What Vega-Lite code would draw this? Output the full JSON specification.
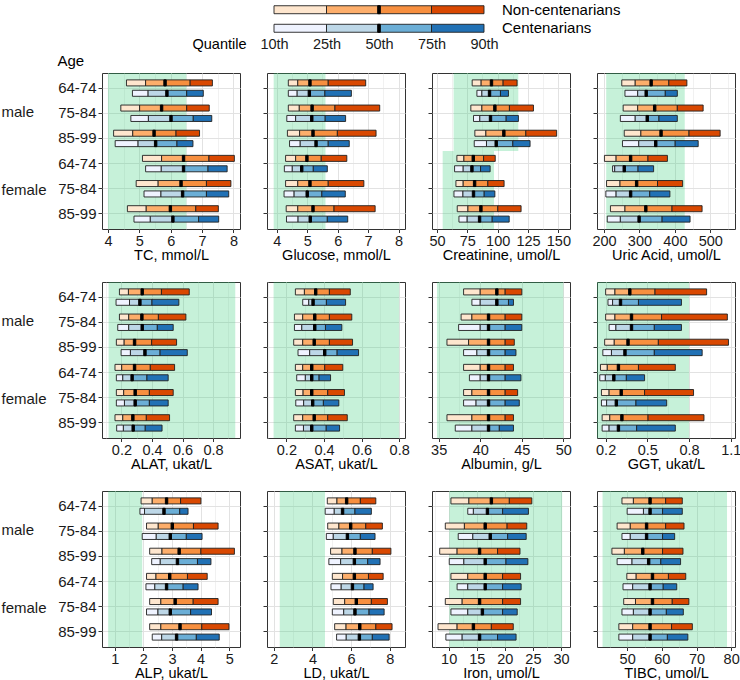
{
"$schema": "https://vega.github.io/schema/vega-lite/v6.json",
"padding": {"left": 0, "top": 2, "right": 0, "bottom": 0},
"background": "white",
"config": {
  "font": "Liberation Sans",
  "view": {"stroke": "#333333", "strokeWidth": 1},
  "axis": {"labelColor": "#1a1a1a", "titleColor": "#000000", "titleFontWeight": "normal", "domain": false, "tickColor": "#333333", "gridColor": "#e2e2e2"},
  "axisX": {"tickSize": 3.5, "labelPadding": 1.5, "labelFontSize": 14.5, "titleFontSize": 14.5, "titlePadding": 1, "labelOverlap": false, "labelFlush": false, "tickCount": 30}
},
"datasets": {
"leg": [
{"g":"NC","name":"Non-centenarians","sh":"NC1","lo":"10th","hi":"25th"},
{"g":"NC","name":"Non-centenarians","sh":"NC2","lo":"25th","hi":"50th"},
{"g":"NC","name":"Non-centenarians","sh":"NC3","lo":"50th","hi":"75th"},
{"g":"NC","name":"Non-centenarians","sh":"NC4","lo":"75th","hi":"90th"},
{"g":"C","name":"Centenarians","sh":"C1","lo":"10th","hi":"25th"},
{"g":"C","name":"Centenarians","sh":"C2","lo":"25th","hi":"50th"},
{"g":"C","name":"Centenarians","sh":"C3","lo":"50th","hi":"75th"},
{"g":"C","name":"Centenarians","sh":"C4","lo":"75th","hi":"90th"}
],
"ref": [
{"t":"TC","s":"male","lo":4.0,"hi":6.5},{"t":"TC","s":"female","lo":4.0,"hi":6.5},
{"t":"Glu","s":"male","lo":3.9,"hi":5.6},{"t":"Glu","s":"female","lo":3.9,"hi":5.6},
{"t":"Crea","s":"male","lo":63.7,"hi":117},{"t":"Crea","s":"female","lo":54.7,"hi":97},
{"t":"UA","s":"male","lo":206,"hi":428},{"t":"UA","s":"female","lo":206,"hi":428},
{"t":"ALAT","s":"male","lo":0.116,"hi":0.945},{"t":"ALAT","s":"female","lo":0.116,"hi":0.945},
{"t":"ASAT","s":"male","lo":0.132,"hi":0.8},{"t":"ASAT","s":"female","lo":0.132,"hi":0.8},
{"t":"Alb","s":"male","lo":34.8,"hi":50},{"t":"Alb","s":"female","lo":34.8,"hi":50},
{"t":"GGT","s":"male","lo":0.1,"hi":0.8},{"t":"GGT","s":"female","lo":0.1,"hi":0.8},
{"t":"ALP","s":"male","lo":0.77,"hi":1.96},{"t":"ALP","s":"female","lo":0.77,"hi":1.96},
{"t":"LD","s":"male","lo":2.31,"hi":4.65},{"t":"LD","s":"female","lo":2.31,"hi":4.65},
{"t":"Fe","s":"male","lo":10.1,"hi":30.2},{"t":"Fe","s":"female","lo":10.1,"hi":30.2},
{"t":"TIBC","s":"male","lo":42.9,"hi":78.8},{"t":"TIBC","s":"female","lo":42.9,"hi":78.8}
],
"q": [
{"t":"TC","k":"male 64-74","g":"NC","q10":4.59,"q25":5.2,"q50":5.82,"q75":6.62,"q90":7.33},
{"t":"TC","k":"male 64-74","g":"C","q10":4.78,"q25":5.28,"q50":5.88,"q75":6.51,"q90":7.04},
{"t":"TC","k":"male 75-84","g":"NC","q10":4.41,"q25":5.01,"q50":5.71,"q75":6.51,"q90":7.23},
{"t":"TC","k":"male 75-84","g":"C","q10":4.73,"q25":5.29,"q50":6.01,"q75":6.72,"q90":7.31},
{"t":"TC","k":"male 85-99","g":"NC","q10":4.18,"q25":4.79,"q50":5.47,"q75":6.17,"q90":6.92},
{"t":"TC","k":"male 85-99","g":"C","q10":4.23,"q25":4.96,"q50":5.52,"q75":6.2,"q90":6.71},
{"t":"TC","k":"female 64-74","g":"NC","q10":5.1,"q25":5.71,"q50":6.41,"q75":7.22,"q90":8.03},
{"t":"TC","k":"female 64-74","g":"C","q10":5.2,"q25":5.7,"q50":6.41,"q75":7.19,"q90":7.8},
{"t":"TC","k":"female 75-84","g":"NC","q10":4.9,"q25":5.6,"q50":6.33,"q75":7.14,"q90":7.92},
{"t":"TC","k":"female 75-84","g":"C","q10":5.15,"q25":5.69,"q50":6.38,"q75":7.14,"q90":7.85},
{"t":"TC","k":"female 85-99","g":"NC","q10":4.62,"q25":5.22,"q50":5.99,"q75":6.8,"q90":7.52},
{"t":"TC","k":"female 85-99","g":"C","q10":4.83,"q25":5.35,"q50":6.07,"q75":6.89,"q90":7.53},
{"t":"Glu","k":"male 64-74","g":"NC","q10":4.38,"q25":4.69,"q50":5.09,"q75":5.69,"q90":6.92},
{"t":"Glu","k":"male 64-74","g":"C","q10":4.38,"q25":4.67,"q50":5.07,"q75":5.58,"q90":6.45},
{"t":"Glu","k":"male 75-84","g":"NC","q10":4.38,"q25":4.74,"q50":5.16,"q75":5.91,"q90":7.38},
{"t":"Glu","k":"male 75-84","g":"C","q10":4.33,"q25":4.62,"q50":5.15,"q75":5.59,"q90":6.26},
{"t":"Glu","k":"male 85-99","g":"NC","q10":4.35,"q25":4.75,"q50":5.19,"q75":5.99,"q90":7.26},
{"t":"Glu","k":"male 85-99","g":"C","q10":4.42,"q25":4.77,"q50":5.29,"q75":5.69,"q90":6.38},
{"t":"Glu","k":"female 64-74","g":"NC","q10":4.29,"q25":4.62,"q50":4.99,"q75":5.46,"q90":6.3},
{"t":"Glu","k":"female 64-74","g":"C","q10":4.25,"q25":4.51,"q50":4.82,"q75":5.2,"q90":5.66},
{"t":"Glu","k":"female 75-84","g":"NC","q10":4.29,"q25":4.69,"q50":5.09,"q75":5.69,"q90":6.86},
{"t":"Glu","k":"female 75-84","g":"C","q10":4.24,"q25":4.57,"q50":5.0,"q75":5.48,"q90":6.25},
{"t":"Glu","k":"female 85-99","g":"NC","q10":4.31,"q25":4.69,"q50":5.19,"q75":5.88,"q90":7.23},
{"t":"Glu","k":"female 85-99","g":"C","q10":4.32,"q25":4.7,"q50":5.1,"q75":5.66,"q90":6.33},
{"t":"Crea","k":"male 64-74","g":"NC","q10":79.0,"q25":86.4,"q50":94.9,"q75":104.5,"q90":116.0},
{"t":"Crea","k":"male 64-74","g":"C","q10":82.9,"q25":87.0,"q50":93.3,"q75":102.3,"q90":108.9},
{"t":"Crea","k":"male 75-84","g":"NC","q10":77.9,"q25":87.0,"q50":97.7,"q75":109.7,"q90":129.5},
{"t":"Crea","k":"male 75-84","g":"C","q10":80.1,"q25":85.3,"q50":94.1,"q75":107.0,"q90":117.1},
{"t":"Crea","k":"male 85-99","g":"NC","q10":81.2,"q25":90.3,"q50":105.1,"q75":123.2,"q90":148.6},
{"t":"Crea","k":"male 85-99","g":"C","q10":80.7,"q25":90.8,"q50":98.8,"q75":112.5,"q90":126.7},
{"t":"Crea","k":"female 64-74","g":"NC","q10":66.4,"q25":72.2,"q50":79.9,"q75":88.4,"q90":98.0},
{"t":"Crea","k":"female 64-74","g":"C","q10":64.5,"q25":71.6,"q50":78.8,"q75":85.9,"q90":93.8},
{"t":"Crea","k":"female 75-84","g":"NC","q10":65.6,"q25":71.6,"q50":81.0,"q75":91.9,"q90":105.3},
{"t":"Crea","k":"female 75-84","g":"C","q10":64.0,"q25":71.4,"q50":80.1,"q75":88.9,"q90":97.7},
{"t":"Crea","k":"female 85-99","g":"NC","q10":66.7,"q25":75.5,"q50":86.2,"q75":100.1,"q90":119.3},
{"t":"Crea","k":"female 85-99","g":"C","q10":68.1,"q25":74.9,"q50":85.1,"q75":95.5,"q90":109.5},
{"t":"UA","k":"male 64-74","g":"NC","q10":250,"q25":288,"q50":333,"q75":383,"q90":434},
{"t":"UA","k":"male 64-74","g":"C","q10":259,"q25":295,"q50":319,"q75":373,"q90":407},
{"t":"UA","k":"male 75-84","g":"NC","q10":254,"q25":295,"q50":343,"q75":407,"q90":480},
{"t":"UA","k":"male 75-84","g":"C","q10":246,"q25":288,"q50":322,"q75":355,"q90":407},
{"t":"UA","k":"male 85-99","g":"NC","q10":257,"q25":304,"q50":361,"q75":440,"q90":528},
{"t":"UA","k":"male 85-99","g":"C","q10":252,"q25":298,"q50":346,"q75":401,"q90":466},
{"t":"UA","k":"female 64-74","g":"NC","q10":201,"q25":234,"q50":275,"q75":324,"q90":379},
{"t":"UA","k":"female 64-74","g":"C","q10":224,"q25":230,"q50":257,"q75":296,"q90":340},
{"t":"UA","k":"female 75-84","g":"NC","q10":207,"q25":245,"q50":292,"q75":351,"q90":422},
{"t":"UA","k":"female 75-84","g":"C","q10":205,"q25":234,"q50":275,"q75":329,"q90":386},
{"t":"UA","k":"female 85-99","g":"NC","q10":218,"q25":259,"q50":318,"q75":392,"q90":477},
{"t":"UA","k":"female 85-99","g":"C","q10":209,"q25":246,"q50":299,"q75":364,"q90":443},
{"t":"ALAT","k":"male 64-74","g":"NC","q10":0.187,"q25":0.246,"q50":0.336,"q75":0.462,"q90":0.644},
{"t":"ALAT","k":"male 64-74","g":"C","q10":0.165,"q25":0.253,"q50":0.321,"q75":0.4,"q90":0.576},
{"t":"ALAT","k":"male 75-84","g":"NC","q10":0.187,"q25":0.248,"q50":0.334,"q75":0.442,"q90":0.622},
{"t":"ALAT","k":"male 75-84","g":"C","q10":0.176,"q25":0.248,"q50":0.336,"q75":0.435,"q90":0.539},
{"t":"ALAT","k":"male 85-99","g":"NC","q10":0.167,"q25":0.218,"q50":0.286,"q75":0.398,"q90":0.561},
{"t":"ALAT","k":"male 85-99","g":"C","q10":0.198,"q25":0.259,"q50":0.354,"q75":0.453,"q90":0.631},
{"t":"ALAT","k":"female 64-74","g":"NC","q10":0.158,"q25":0.202,"q50":0.286,"q75":0.389,"q90":0.548},
{"t":"ALAT","k":"female 64-74","g":"C","q10":0.167,"q25":0.209,"q50":0.27,"q75":0.367,"q90":0.506},
{"t":"ALAT","k":"female 75-84","g":"NC","q10":0.167,"q25":0.215,"q50":0.29,"q75":0.383,"q90":0.539},
{"t":"ALAT","k":"female 75-84","g":"C","q10":0.167,"q25":0.22,"q50":0.29,"q75":0.383,"q90":0.506},
{"t":"ALAT","k":"female 85-99","g":"NC","q10":0.158,"q25":0.209,"q50":0.275,"q75":0.363,"q90":0.515},
{"t":"ALAT","k":"female 85-99","g":"C","q10":0.169,"q25":0.213,"q50":0.277,"q75":0.356,"q90":0.466},
{"t":"ASAT","k":"male 64-74","g":"NC","q10":0.248,"q25":0.296,"q50":0.356,"q75":0.429,"q90":0.54},
{"t":"ASAT","k":"male 64-74","g":"C","q10":0.287,"q25":0.319,"q50":0.342,"q75":0.413,"q90":0.515},
{"t":"ASAT","k":"male 75-84","g":"NC","q10":0.243,"q25":0.287,"q50":0.351,"q75":0.429,"q90":0.548},
{"t":"ASAT","k":"male 75-84","g":"C","q10":0.243,"q25":0.282,"q50":0.351,"q75":0.408,"q90":0.495},
{"t":"ASAT","k":"male 85-99","g":"NC","q10":0.239,"q25":0.287,"q50":0.348,"q75":0.429,"q90":0.552},
{"t":"ASAT","k":"male 85-99","g":"C","q10":0.262,"q25":0.324,"q50":0.404,"q75":0.47,"q90":0.584},
{"t":"ASAT","k":"female 64-74","g":"NC","q10":0.248,"q25":0.287,"q50":0.335,"q75":0.404,"q90":0.5},
{"t":"ASAT","k":"female 64-74","g":"C","q10":0.255,"q25":0.301,"q50":0.335,"q75":0.374,"q90":0.435},
{"t":"ASAT","k":"female 75-84","g":"NC","q10":0.248,"q25":0.289,"q50":0.335,"q75":0.42,"q90":0.509},
{"t":"ASAT","k":"female 75-84","g":"C","q10":0.25,"q25":0.292,"q50":0.34,"q75":0.397,"q90":0.479},
{"t":"ASAT","k":"female 85-99","g":"NC","q10":0.239,"q25":0.287,"q50":0.348,"q75":0.42,"q90":0.524},
{"t":"ASAT","k":"female 85-99","g":"C","q10":0.248,"q25":0.291,"q50":0.335,"q75":0.412,"q90":0.483},
{"t":"Alb","k":"male 64-74","g":"NC","q10":38,"q25":40,"q50":42,"q75":43,"q90":45},
{"t":"Alb","k":"male 64-74","g":"C","q10":39,"q25":40,"q50":42,"q75":43.4,"q90":44},
{"t":"Alb","k":"male 75-84","g":"NC","q10":37.7,"q25":39,"q50":41,"q75":43,"q90":45},
{"t":"Alb","k":"male 75-84","g":"C","q10":37.4,"q25":40,"q50":41,"q75":43,"q90":45},
{"t":"Alb","k":"male 85-99","g":"NC","q10":36,"q25":38.6,"q50":41,"q75":43,"q90":44.1},
{"t":"Alb","k":"male 85-99","g":"C","q10":38,"q25":39.6,"q50":41,"q75":43,"q90":44.3},
{"t":"Alb","k":"female 64-74","g":"NC","q10":38,"q25":40,"q50":41,"q75":43,"q90":44},
{"t":"Alb","k":"female 64-74","g":"C","q10":38.7,"q25":40,"q50":41,"q75":43,"q90":44.9},
{"t":"Alb","k":"female 75-84","g":"NC","q10":38,"q25":39,"q50":41,"q75":43,"q90":44.5},
{"t":"Alb","k":"female 75-84","g":"C","q10":38,"q25":39.5,"q50":41,"q75":43,"q90":44.7},
{"t":"Alb","k":"female 85-99","g":"NC","q10":36,"q25":39,"q50":41,"q75":43,"q90":44},
{"t":"Alb","k":"female 85-99","g":"C","q10":37,"q25":39,"q50":41,"q75":42.3,"q90":44},
{"t":"GGT","k":"male 64-74","g":"NC","q10":0.2,"q25":0.267,"q50":0.374,"q75":0.555,"q90":0.926},
{"t":"GGT","k":"male 64-74","g":"C","q10":0.217,"q25":0.25,"q50":0.307,"q75":0.436,"q90":0.745},
{"t":"GGT","k":"male 75-84","g":"NC","q10":0.2,"q25":0.267,"q50":0.386,"q75":0.602,"q90":1.075},
{"t":"GGT","k":"male 75-84","g":"C","q10":0.225,"q25":0.274,"q50":0.386,"q75":0.55,"q90":0.745},
{"t":"GGT","k":"male 85-99","g":"NC","q10":0.193,"q25":0.262,"q50":0.361,"q75":0.579,"q90":1.083},
{"t":"GGT","k":"male 85-99","g":"C","q10":0.18,"q25":0.242,"q50":0.339,"q75":0.55,"q90":0.894},
{"t":"GGT","k":"female 64-74","g":"NC","q10":0.163,"q25":0.212,"q50":0.292,"q75":0.436,"q90":0.701},
{"t":"GGT","k":"female 64-74","g":"C","q10":0.158,"q25":0.198,"q50":0.259,"q75":0.349,"q90":0.48},
{"t":"GGT","k":"female 75-84","g":"NC","q10":0.17,"q25":0.225,"q50":0.312,"q75":0.48,"q90":0.832},
{"t":"GGT","k":"female 75-84","g":"C","q10":0.17,"q25":0.207,"q50":0.277,"q75":0.418,"q90":0.639},
{"t":"GGT","k":"female 85-99","g":"NC","q10":0.175,"q25":0.23,"q50":0.317,"q75":0.505,"q90":0.907},
{"t":"GGT","k":"female 85-99","g":"C","q10":0.175,"q25":0.225,"q50":0.292,"q75":0.423,"q90":0.701},
{"t":"ALP","k":"male 64-74","g":"NC","q10":1.92,"q25":2.31,"q50":2.81,"q75":3.3,"q90":4.01},
{"t":"ALP","k":"male 64-74","g":"C","q10":1.88,"q25":2.04,"q50":2.72,"q75":3.27,"q90":3.56},
{"t":"ALP","k":"male 75-84","g":"NC","q10":2.11,"q25":2.52,"q50":3.01,"q75":3.75,"q90":4.61},
{"t":"ALP","k":"male 75-84","g":"C","q10":1.96,"q25":2.45,"q50":2.94,"q75":3.5,"q90":4.05},
{"t":"ALP","k":"male 85-99","g":"NC","q10":2.22,"q25":2.65,"q50":3.25,"q75":4.01,"q90":5.18},
{"t":"ALP","k":"male 85-99","g":"C","q10":2.29,"q25":2.59,"q50":3.19,"q75":3.89,"q90":4.36},
{"t":"ALP","k":"female 64-74","g":"NC","q10":2.11,"q25":2.44,"q50":2.92,"q75":3.54,"q90":4.23},
{"t":"ALP","k":"female 64-74","g":"C","q10":2.09,"q25":2.4,"q50":2.81,"q75":3.39,"q90":3.91},
{"t":"ALP","k":"female 75-84","g":"NC","q10":2.22,"q25":2.61,"q50":3.11,"q75":3.74,"q90":4.61},
{"t":"ALP","k":"female 75-84","g":"C","q10":2.11,"q25":2.51,"q50":2.94,"q75":3.65,"q90":4.38},
{"t":"ALP","k":"female 85-99","g":"NC","q10":2.22,"q25":2.61,"q50":3.28,"q75":4.04,"q90":4.99},
{"t":"ALP","k":"female 85-99","g":"C","q10":2.31,"q25":2.64,"q50":3.16,"q75":3.85,"q90":4.65},
{"t":"LD","k":"male 64-74","g":"NC","q10":4.77,"q25":5.27,"q50":5.77,"q75":6.48,"q90":7.28},
{"t":"LD","k":"male 64-74","g":"C","q10":4.66,"q25":5.13,"q50":5.56,"q75":6.2,"q90":7.05},
{"t":"LD","k":"male 75-84","g":"NC","q10":4.79,"q25":5.37,"q50":5.98,"q75":6.76,"q90":7.62},
{"t":"LD","k":"male 75-84","g":"C","q10":4.72,"q25":5.08,"q50":5.81,"q75":6.48,"q90":7.24},
{"t":"LD","k":"male 85-99","g":"NC","q10":4.94,"q25":5.53,"q50":6.2,"q75":7.1,"q90":8.06},
{"t":"LD","k":"male 85-99","g":"C","q10":4.85,"q25":5.46,"q50":6.17,"q75":6.86,"q90":7.5},
{"t":"LD","k":"female 64-74","g":"NC","q10":5.03,"q25":5.56,"q50":6.17,"q75":6.9,"q90":7.66},
{"t":"LD","k":"female 64-74","g":"C","q10":4.96,"q25":5.49,"q50":6.07,"q75":6.67,"q90":7.14},
{"t":"LD","k":"female 75-84","g":"NC","q10":5.08,"q25":5.67,"q50":6.27,"q75":7.05,"q90":7.88},
{"t":"LD","k":"female 75-84","g":"C","q10":5.03,"q25":5.62,"q50":6.2,"q75":6.93,"q90":7.71},
{"t":"LD","k":"female 85-99","g":"NC","q10":5.15,"q25":5.74,"q50":6.45,"q75":7.28,"q90":8.12},
{"t":"LD","k":"female 85-99","g":"C","q10":5.25,"q25":5.75,"q50":6.43,"q75":7.1,"q90":7.97},
{"t":"Fe","k":"male 64-74","g":"NC","q10":10.4,"q25":13.6,"q50":17.6,"q75":20.8,"q90":24.8},
{"t":"Fe","k":"male 64-74","g":"C","q10":13.4,"q25":14.4,"q50":16.9,"q75":19.6,"q90":24.2},
{"t":"Fe","k":"male 75-84","g":"NC","q10":9.4,"q25":12.8,"q50":16.5,"q75":20.4,"q90":23.9},
{"t":"Fe","k":"male 75-84","g":"C","q10":11.7,"q25":14.3,"q50":17.4,"q75":20.5,"q90":23.8},
{"t":"Fe","k":"male 85-99","g":"NC","q10":8.4,"q25":11.5,"q50":15.5,"q75":18.7,"q90":22.7},
{"t":"Fe","k":"male 85-99","g":"C","q10":10.1,"q25":12.7,"q50":16.5,"q75":20.2,"q90":24.1},
{"t":"Fe","k":"female 64-74","g":"NC","q10":10.4,"q25":13.4,"q50":16.5,"q75":19.6,"q90":22.8},
{"t":"Fe","k":"female 64-74","g":"C","q10":11.5,"q25":13.4,"q50":16.5,"q75":19.6,"q90":22.9},
{"t":"Fe","k":"female 75-84","g":"NC","q10":9.4,"q25":12.4,"q50":15.5,"q75":19.6,"q90":22.8},
{"t":"Fe","k":"female 75-84","g":"C","q10":10.4,"q25":13.4,"q50":16.0,"q75":19.6,"q90":22.2},
{"t":"Fe","k":"female 85-99","g":"NC","q10":8.1,"q25":11.5,"q50":14.4,"q75":17.6,"q90":21.5},
{"t":"Fe","k":"female 85-99","g":"C","q10":9.5,"q25":12.4,"q50":15.5,"q75":18.7,"q90":22.0},
{"t":"TIBC","k":"male 64-74","g":"NC","q10":48.5,"q25":51.8,"q50":56.6,"q75":61.1,"q90":65.9},
{"t":"TIBC","k":"male 64-74","g":"C","q10":50.0,"q25":54.7,"q50":56.6,"q75":60.2,"q90":65.9},
{"t":"TIBC","k":"male 75-84","g":"NC","q10":47.1,"q25":50.9,"q50":55.6,"q75":61.1,"q90":66.4},
{"t":"TIBC","k":"male 75-84","g":"C","q10":48.5,"q25":50.9,"q50":55.6,"q75":60.2,"q90":63.7},
{"t":"TIBC","k":"male 85-99","g":"NC","q10":45.6,"q25":49.2,"q50":54.5,"q75":60.2,"q90":66.1},
{"t":"TIBC","k":"male 85-99","g":"C","q10":47.1,"q25":51.4,"q50":56.2,"q75":59.7,"q90":65.4},
{"t":"TIBC","k":"female 64-74","g":"NC","q10":49.9,"q25":52.6,"q50":57.3,"q75":61.9,"q90":66.9},
{"t":"TIBC","k":"female 64-74","g":"C","q10":48.8,"q25":51.6,"q50":56.6,"q75":60.4,"q90":64.3},
{"t":"TIBC","k":"female 75-84","g":"NC","q10":49.0,"q25":52.4,"q50":57.3,"q75":63.0,"q90":67.8},
{"t":"TIBC","k":"female 75-84","g":"C","q10":48.5,"q25":51.8,"q50":56.6,"q75":61.3,"q90":66.2},
{"t":"TIBC","k":"female 85-99","g":"NC","q10":47.6,"q25":51.6,"q50":56.6,"q75":62.8,"q90":68.8},
{"t":"TIBC","k":"female 85-99","g":"C","q10":47.6,"q25":51.6,"q50":56.6,"q75":61.6,"q90":67.5}
]
},
"vconcat": [
{
 "width": 540, "height": 28,
 "view": {"stroke": null},
 "layer": [
  {"data": {"name": "leg"}, "mark": {"type": "bar", "stroke": "#1f1f1f", "strokeWidth": 0.9},
   "encoding": {
    "x": {"field": "lo", "type": "ordinal", "scale": {"type": "point", "padding": 0, "domain": ["10th","25th","50th","75th","90th"], "range": [172, 382]}, "axis": {"title": "Quantile", "ticks": false, "tickSize": 0, "grid": false, "labelPadding": 4, "labelAngle": 0, "labelFontSize": 14.5, "titleFontSize": 14.5, "titleAlign": "left", "titleBaseline": "top", "titleX": 90, "titleY": 4, "titleAnchor": null}},
    "x2": {"field": "hi"},
    "y": {"field": "g", "type": "nominal", "scale": {"domain": ["NC","C"], "paddingInner": 0.57, "paddingOuter": 0.04}, "axis": null},
    "fill": {"field": "sh", "type": "nominal", "scale": {"domain": ["NC1","NC2","NC3","NC4","C1","C2","C3","C4"], "range": ["#fee6ce","#fdae6b","#f78f3f","#d94801","#eff3ff","#bdd7e7","#6baed6","#2171b5"]}, "legend": null}
   }},
  {"data": {"name": "leg"}, "transform": [{"filter": "datum.lo=='50th'"}], "mark": {"type": "bar", "fill": "#000", "stroke": "#000", "strokeWidth": 1, "xOffset": -1.3, "x2Offset": 1.3},
   "encoding": {"x": {"field": "lo", "type": "ordinal"}, "x2": {"field": "lo"}, "y": {"field": "g", "type": "nominal"}}},
  {"data": {"name": "leg"}, "transform": [{"filter": "datum.hi=='90th'"}], "mark": {"type": "text", "align": "left", "baseline": "middle", "dx": 18, "fontSize": 15, "color": "#000"},
   "encoding": {"x": {"field": "hi", "type": "ordinal"}, "y": {"field": "g", "type": "nominal"}, "text": {"field": "name"}}}
 ]
},
{
 "columns": 4,
 "bounds": "flush",
 "spacing": {"row": 53, "column": 27},
 "concat": [
 {"width": 138, "height": 156, "resolve": {"scale": {"y": "independent"}},
  "layer": [
   {"data": {"name": "ref"}, "transform": [{"filter": "datum.t=='TC'"}], "mark": {"type": "rect", "fill": "#2ecc71", "opacity": 0.27, "clip": true},
    "encoding": {"x": {"field": "lo", "type": "quantitative", "scale": {"domain": [3.81, 8.21], "nice": false, "zero": false}, "axis": {"title": "TC, mmol/L", "grid": true, "tickCount": 30, "labelOverlap": false, "values": [4,4.5,5,5.5,6,6.5,7,7.5,8], "format": ".0f", "labelExpr": "datum.value % 1 == 0 ? datum.label : ''", "tickOpacity": {"condition": {"test": "datum.value % 1 == 0", "value": 1}, "value": 0}, "gridWidth": {"condition": {"test": "datum.value % 1 == 0", "value": 1}, "value": 0.5}}},
     "x2": {"field": "hi"}, "y": {"field": "s", "type": "nominal", "scale": {"domain": ["male","female"], "paddingInner": 0, "paddingOuter": 0}, "axis": null}}},
   {"data": {"name": "q"}, "transform": [{"filter": "datum.t=='TC'"}],
    "layer": [
     {"mark": {"type": "bar", "stroke": "#1f1f1f", "strokeWidth": 0.9}, "encoding": {"x": {"field": "q10", "type": "quantitative"}, "x2": {"field": "q25"}, "y": {"field": "k", "type": "nominal", "scale": {"domain": ["male 64-74","male 75-84","male 85-99","female 64-74","female 75-84","female 85-99"], "paddingInner": 0, "paddingOuter": 0.1}, "axis": {"orient": "left", "title": "Age", "labelExpr": "split(datum.label, ' ')[1]", "bandPosition": 0.5, "grid": true, "ticks": true, "tickSize": 4, "labelPadding": 2, "labelFontSize": 15, "titleFontSize": 15, "titleAngle": 0, "titleAlign": "left", "titleBaseline": "alphabetic", "titleX": -45, "titleY": -8}}, "yOffset": {"field": "g", "type": "nominal", "scale": {"domain": ["NC","C"], "paddingInner": 0.42, "paddingOuter": 0.42}}, "fill": {"condition": {"test": "datum.g=='C'", "value": "#eff3ff"}, "value": "#fee6ce"}}},
     {"mark": {"type": "bar", "stroke": "#1f1f1f", "strokeWidth": 0.9}, "encoding": {"x": {"field": "q25", "type": "quantitative"}, "x2": {"field": "q50"}, "y": {"field": "k", "type": "nominal"}, "yOffset": {"field": "g", "type": "nominal"}, "fill": {"condition": {"test": "datum.g=='C'", "value": "#bdd7e7"}, "value": "#fdae6b"}}},
     {"mark": {"type": "bar", "stroke": "#1f1f1f", "strokeWidth": 0.9}, "encoding": {"x": {"field": "q50", "type": "quantitative"}, "x2": {"field": "q75"}, "y": {"field": "k", "type": "nominal"}, "yOffset": {"field": "g", "type": "nominal"}, "fill": {"condition": {"test": "datum.g=='C'", "value": "#6baed6"}, "value": "#f78f3f"}}},
     {"mark": {"type": "bar", "stroke": "#1f1f1f", "strokeWidth": 0.9}, "encoding": {"x": {"field": "q75", "type": "quantitative"}, "x2": {"field": "q90"}, "y": {"field": "k", "type": "nominal"}, "yOffset": {"field": "g", "type": "nominal"}, "fill": {"condition": {"test": "datum.g=='C'", "value": "#2171b5"}, "value": "#d94801"}}},
     {"mark": {"type": "bar", "fill": "#000", "stroke": "#000", "strokeWidth": 1, "xOffset": -1.2, "x2Offset": 1.2}, "encoding": {"x": {"field": "q50", "type": "quantitative"}, "x2": {"field": "q50"}, "y": {"field": "k", "type": "nominal"}, "yOffset": {"field": "g", "type": "nominal"}}}
    ]},
   {"data": {"name": "ref"}, "transform": [{"filter": "datum.t=='TC'"}], "mark": {"type": "rect", "opacity": 0},
    "encoding": {"x": {"field": "lo", "type": "quantitative"}, "x2": {"field": "hi"}, "y": {"field": "s", "type": "nominal", "scale": {"domain": ["male","female"], "paddingInner": 0, "paddingOuter": 0}, "axis": {"orient": "left", "title": null, "offset": 46, "ticks": false, "tickSize": 0, "domain": false, "grid": false, "labelAlign": "left", "labelPadding": 55, "labelFontSize": 15}}}}
  ]},
 {"width": 138, "height": 156, "resolve": {"scale": {"y": "independent"}},
  "layer": [
   {"data": {"name": "ref"}, "transform": [{"filter": "datum.t=='Glu'"}], "mark": {"type": "rect", "fill": "#2ecc71", "opacity": 0.27, "clip": true},
    "encoding": {"x": {"field": "lo", "type": "quantitative", "scale": {"domain": [3.68, 8.21], "nice": false, "zero": false}, "axis": {"title": "Glucose, mmol/L", "grid": true, "tickCount": 30, "labelOverlap": false, "values": [4,4.5,5,5.5,6,6.5,7,7.5,8], "format": ".0f", "labelExpr": "datum.value % 1 == 0 ? datum.label : ''", "tickOpacity": {"condition": {"test": "datum.value % 1 == 0", "value": 1}, "value": 0}, "gridWidth": {"condition": {"test": "datum.value % 1 == 0", "value": 1}, "value": 0.5}}},
     "x2": {"field": "hi"}, "y": {"field": "s", "type": "nominal", "scale": {"domain": ["male","female"], "paddingInner": 0, "paddingOuter": 0}, "axis": null}}},
   {"data": {"name": "q"}, "transform": [{"filter": "datum.t=='Glu'"}],
    "layer": [
     {"mark": {"type": "bar", "stroke": "#1f1f1f", "strokeWidth": 0.9}, "encoding": {"x": {"field": "q10", "type": "quantitative"}, "x2": {"field": "q25"}, "y": {"field": "k", "type": "nominal", "scale": {"domain": ["male 64-74","male 75-84","male 85-99","female 64-74","female 75-84","female 85-99"], "paddingInner": 0, "paddingOuter": 0.1}, "axis": {"orient": "left", "title": null, "labels": false, "bandPosition": 0.5, "grid": true, "ticks": true, "tickSize": 4}}, "yOffset": {"field": "g", "type": "nominal", "scale": {"domain": ["NC","C"], "paddingInner": 0.42, "paddingOuter": 0.42}}, "fill": {"condition": {"test": "datum.g=='C'", "value": "#eff3ff"}, "value": "#fee6ce"}}},
     {"mark": {"type": "bar", "stroke": "#1f1f1f", "strokeWidth": 0.9}, "encoding": {"x": {"field": "q25", "type": "quantitative"}, "x2": {"field": "q50"}, "y": {"field": "k", "type": "nominal"}, "yOffset": {"field": "g", "type": "nominal"}, "fill": {"condition": {"test": "datum.g=='C'", "value": "#bdd7e7"}, "value": "#fdae6b"}}},
     {"mark": {"type": "bar", "stroke": "#1f1f1f", "strokeWidth": 0.9}, "encoding": {"x": {"field": "q50", "type": "quantitative"}, "x2": {"field": "q75"}, "y": {"field": "k", "type": "nominal"}, "yOffset": {"field": "g", "type": "nominal"}, "fill": {"condition": {"test": "datum.g=='C'", "value": "#6baed6"}, "value": "#f78f3f"}}},
     {"mark": {"type": "bar", "stroke": "#1f1f1f", "strokeWidth": 0.9}, "encoding": {"x": {"field": "q75", "type": "quantitative"}, "x2": {"field": "q90"}, "y": {"field": "k", "type": "nominal"}, "yOffset": {"field": "g", "type": "nominal"}, "fill": {"condition": {"test": "datum.g=='C'", "value": "#2171b5"}, "value": "#d94801"}}},
     {"mark": {"type": "bar", "fill": "#000", "stroke": "#000", "strokeWidth": 1, "xOffset": -1.2, "x2Offset": 1.2}, "encoding": {"x": {"field": "q50", "type": "quantitative"}, "x2": {"field": "q50"}, "y": {"field": "k", "type": "nominal"}, "yOffset": {"field": "g", "type": "nominal"}}}
    ]}
  ]},
 {"width": 138, "height": 156, "resolve": {"scale": {"y": "independent"}},
  "layer": [
   {"data": {"name": "ref"}, "transform": [{"filter": "datum.t=='Crea'"}], "mark": {"type": "rect", "fill": "#2ecc71", "opacity": 0.27, "clip": true},
    "encoding": {"x": {"field": "lo", "type": "quantitative", "scale": {"domain": [45.9, 159.6], "nice": false, "zero": false}, "axis": {"title": "Creatinine, umol/L", "grid": true, "tickCount": 30, "labelOverlap": false, "values": [50,62.5,75,87.5,100,112.5,125,137.5,150], "format": ".0f", "labelExpr": "datum.value % 25 == 0 ? datum.label : ''", "tickOpacity": {"condition": {"test": "datum.value % 25 == 0", "value": 1}, "value": 0}, "gridWidth": {"condition": {"test": "datum.value % 25 == 0", "value": 1}, "value": 0.5}}},
     "x2": {"field": "hi"}, "y": {"field": "s", "type": "nominal", "scale": {"domain": ["male","female"], "paddingInner": 0, "paddingOuter": 0}, "axis": null}}},
   {"data": {"name": "q"}, "transform": [{"filter": "datum.t=='Crea'"}],
    "layer": [
     {"mark": {"type": "bar", "stroke": "#1f1f1f", "strokeWidth": 0.9}, "encoding": {"x": {"field": "q10", "type": "quantitative"}, "x2": {"field": "q25"}, "y": {"field": "k", "type": "nominal", "scale": {"domain": ["male 64-74","male 75-84","male 85-99","female 64-74","female 75-84","female 85-99"], "paddingInner": 0, "paddingOuter": 0.1}, "axis": {"orient": "left", "title": null, "labels": false, "bandPosition": 0.5, "grid": true, "ticks": true, "tickSize": 4}}, "yOffset": {"field": "g", "type": "nominal", "scale": {"domain": ["NC","C"], "paddingInner": 0.42, "paddingOuter": 0.42}}, "fill": {"condition": {"test": "datum.g=='C'", "value": "#eff3ff"}, "value": "#fee6ce"}}},
     {"mark": {"type": "bar", "stroke": "#1f1f1f", "strokeWidth": 0.9}, "encoding": {"x": {"field": "q25", "type": "quantitative"}, "x2": {"field": "q50"}, "y": {"field": "k", "type": "nominal"}, "yOffset": {"field": "g", "type": "nominal"}, "fill": {"condition": {"test": "datum.g=='C'", "value": "#bdd7e7"}, "value": "#fdae6b"}}},
     {"mark": {"type": "bar", "stroke": "#1f1f1f", "strokeWidth": 0.9}, "encoding": {"x": {"field": "q50", "type": "quantitative"}, "x2": {"field": "q75"}, "y": {"field": "k", "type": "nominal"}, "yOffset": {"field": "g", "type": "nominal"}, "fill": {"condition": {"test": "datum.g=='C'", "value": "#6baed6"}, "value": "#f78f3f"}}},
     {"mark": {"type": "bar", "stroke": "#1f1f1f", "strokeWidth": 0.9}, "encoding": {"x": {"field": "q75", "type": "quantitative"}, "x2": {"field": "q90"}, "y": {"field": "k", "type": "nominal"}, "yOffset": {"field": "g", "type": "nominal"}, "fill": {"condition": {"test": "datum.g=='C'", "value": "#2171b5"}, "value": "#d94801"}}},
     {"mark": {"type": "bar", "fill": "#000", "stroke": "#000", "strokeWidth": 1, "xOffset": -1.2, "x2Offset": 1.2}, "encoding": {"x": {"field": "q50", "type": "quantitative"}, "x2": {"field": "q50"}, "y": {"field": "k", "type": "nominal"}, "yOffset": {"field": "g", "type": "nominal"}}}
    ]}
  ]},
 {"width": 138, "height": 156, "resolve": {"scale": {"y": "independent"}},
  "layer": [
   {"data": {"name": "ref"}, "transform": [{"filter": "datum.t=='UA'"}], "mark": {"type": "rect", "fill": "#2ecc71", "opacity": 0.27, "clip": true},
    "encoding": {"x": {"field": "lo", "type": "quantitative", "scale": {"domain": [180, 570], "nice": false, "zero": false}, "axis": {"title": "Uric Acid, umol/L", "grid": true, "tickCount": 30, "labelOverlap": false, "values": [200,250,300,350,400,450,500,550], "format": ".0f", "labelExpr": "datum.value % 100 == 0 ? datum.label : ''", "tickOpacity": {"condition": {"test": "datum.value % 100 == 0", "value": 1}, "value": 0}, "gridWidth": {"condition": {"test": "datum.value % 100 == 0", "value": 1}, "value": 0.5}}},
     "x2": {"field": "hi"}, "y": {"field": "s", "type": "nominal", "scale": {"domain": ["male","female"], "paddingInner": 0, "paddingOuter": 0}, "axis": null}}},
   {"data": {"name": "q"}, "transform": [{"filter": "datum.t=='UA'"}],
    "layer": [
     {"mark": {"type": "bar", "stroke": "#1f1f1f", "strokeWidth": 0.9}, "encoding": {"x": {"field": "q10", "type": "quantitative"}, "x2": {"field": "q25"}, "y": {"field": "k", "type": "nominal", "scale": {"domain": ["male 64-74","male 75-84","male 85-99","female 64-74","female 75-84","female 85-99"], "paddingInner": 0, "paddingOuter": 0.1}, "axis": {"orient": "left", "title": null, "labels": false, "bandPosition": 0.5, "grid": true, "ticks": true, "tickSize": 4}}, "yOffset": {"field": "g", "type": "nominal", "scale": {"domain": ["NC","C"], "paddingInner": 0.42, "paddingOuter": 0.42}}, "fill": {"condition": {"test": "datum.g=='C'", "value": "#eff3ff"}, "value": "#fee6ce"}}},
     {"mark": {"type": "bar", "stroke": "#1f1f1f", "strokeWidth": 0.9}, "encoding": {"x": {"field": "q25", "type": "quantitative"}, "x2": {"field": "q50"}, "y": {"field": "k", "type": "nominal"}, "yOffset": {"field": "g", "type": "nominal"}, "fill": {"condition": {"test": "datum.g=='C'", "value": "#bdd7e7"}, "value": "#fdae6b"}}},
     {"mark": {"type": "bar", "stroke": "#1f1f1f", "strokeWidth": 0.9}, "encoding": {"x": {"field": "q50", "type": "quantitative"}, "x2": {"field": "q75"}, "y": {"field": "k", "type": "nominal"}, "yOffset": {"field": "g", "type": "nominal"}, "fill": {"condition": {"test": "datum.g=='C'", "value": "#6baed6"}, "value": "#f78f3f"}}},
     {"mark": {"type": "bar", "stroke": "#1f1f1f", "strokeWidth": 0.9}, "encoding": {"x": {"field": "q75", "type": "quantitative"}, "x2": {"field": "q90"}, "y": {"field": "k", "type": "nominal"}, "yOffset": {"field": "g", "type": "nominal"}, "fill": {"condition": {"test": "datum.g=='C'", "value": "#2171b5"}, "value": "#d94801"}}},
     {"mark": {"type": "bar", "fill": "#000", "stroke": "#000", "strokeWidth": 1, "xOffset": -1.2, "x2Offset": 1.2}, "encoding": {"x": {"field": "q50", "type": "quantitative"}, "x2": {"field": "q50"}, "y": {"field": "k", "type": "nominal"}, "yOffset": {"field": "g", "type": "nominal"}}}
    ]}
  ]},
 {"width": 138, "height": 156, "resolve": {"scale": {"y": "independent"}},
  "layer": [
   {"data": {"name": "ref"}, "transform": [{"filter": "datum.t=='ALAT'"}], "mark": {"type": "rect", "fill": "#2ecc71", "opacity": 0.27, "clip": true},
    "encoding": {"x": {"field": "lo", "type": "quantitative", "scale": {"domain": [0.073, 0.976], "nice": false, "zero": false}, "axis": {"title": "ALAT, ukat/L", "grid": true, "tickCount": 30, "labelOverlap": false, "values": [0.1,0.2,0.3,0.4,0.5,0.6,0.7,0.8,0.9], "format": ".1f", "labelExpr": "round(datum.value * 10) % 2 == 0 ? datum.label : ''", "tickOpacity": {"condition": {"test": "round(datum.value * 10) % 2 == 0", "value": 1}, "value": 0}, "gridWidth": {"condition": {"test": "round(datum.value * 10) % 2 == 0", "value": 1}, "value": 0.5}}},
     "x2": {"field": "hi"}, "y": {"field": "s", "type": "nominal", "scale": {"domain": ["male","female"], "paddingInner": 0, "paddingOuter": 0}, "axis": null}}},
   {"data": {"name": "q"}, "transform": [{"filter": "datum.t=='ALAT'"}],
    "layer": [
     {"mark": {"type": "bar", "stroke": "#1f1f1f", "strokeWidth": 0.9}, "encoding": {"x": {"field": "q10", "type": "quantitative"}, "x2": {"field": "q25"}, "y": {"field": "k", "type": "nominal", "scale": {"domain": ["male 64-74","male 75-84","male 85-99","female 64-74","female 75-84","female 85-99"], "paddingInner": 0, "paddingOuter": 0.1}, "axis": {"orient": "left", "title": null, "labelExpr": "split(datum.label, ' ')[1]", "bandPosition": 0.5, "grid": true, "ticks": true, "tickSize": 4, "labelPadding": 2, "labelFontSize": 15}}, "yOffset": {"field": "g", "type": "nominal", "scale": {"domain": ["NC","C"], "paddingInner": 0.42, "paddingOuter": 0.42}}, "fill": {"condition": {"test": "datum.g=='C'", "value": "#eff3ff"}, "value": "#fee6ce"}}},
     {"mark": {"type": "bar", "stroke": "#1f1f1f", "strokeWidth": 0.9}, "encoding": {"x": {"field": "q25", "type": "quantitative"}, "x2": {"field": "q50"}, "y": {"field": "k", "type": "nominal"}, "yOffset": {"field": "g", "type": "nominal"}, "fill": {"condition": {"test": "datum.g=='C'", "value": "#bdd7e7"}, "value": "#fdae6b"}}},
     {"mark": {"type": "bar", "stroke": "#1f1f1f", "strokeWidth": 0.9}, "encoding": {"x": {"field": "q50", "type": "quantitative"}, "x2": {"field": "q75"}, "y": {"field": "k", "type": "nominal"}, "yOffset": {"field": "g", "type": "nominal"}, "fill": {"condition": {"test": "datum.g=='C'", "value": "#6baed6"}, "value": "#f78f3f"}}},
     {"mark": {"type": "bar", "stroke": "#1f1f1f", "strokeWidth": 0.9}, "encoding": {"x": {"field": "q75", "type": "quantitative"}, "x2": {"field": "q90"}, "y": {"field": "k", "type": "nominal"}, "yOffset": {"field": "g", "type": "nominal"}, "fill": {"condition": {"test": "datum.g=='C'", "value": "#2171b5"}, "value": "#d94801"}}},
     {"mark": {"type": "bar", "fill": "#000", "stroke": "#000", "strokeWidth": 1, "xOffset": -1.2, "x2Offset": 1.2}, "encoding": {"x": {"field": "q50", "type": "quantitative"}, "x2": {"field": "q50"}, "y": {"field": "k", "type": "nominal"}, "yOffset": {"field": "g", "type": "nominal"}}}
    ]},
   {"data": {"name": "ref"}, "transform": [{"filter": "datum.t=='ALAT'"}], "mark": {"type": "rect", "opacity": 0},
    "encoding": {"x": {"field": "lo", "type": "quantitative"}, "x2": {"field": "hi"}, "y": {"field": "s", "type": "nominal", "scale": {"domain": ["male","female"], "paddingInner": 0, "paddingOuter": 0}, "axis": {"orient": "left", "title": null, "offset": 46, "ticks": false, "tickSize": 0, "domain": false, "grid": false, "labelAlign": "left", "labelPadding": 55, "labelFontSize": 15}}}}
  ]},
 {"width": 138, "height": 156, "resolve": {"scale": {"y": "independent"}},
  "layer": [
   {"data": {"name": "ref"}, "transform": [{"filter": "datum.t=='ASAT'"}], "mark": {"type": "rect", "fill": "#2ecc71", "opacity": 0.27, "clip": true},
    "encoding": {"x": {"field": "lo", "type": "quantitative", "scale": {"domain": [0.097, 0.831], "nice": false, "zero": false}, "axis": {"title": "ASAT, ukat/L", "grid": true, "tickCount": 30, "labelOverlap": false, "values": [0.1,0.2,0.3,0.4,0.5,0.6,0.7,0.8], "format": ".1f", "labelExpr": "round(datum.value * 10) % 2 == 0 ? datum.label : ''", "tickOpacity": {"condition": {"test": "round(datum.value * 10) % 2 == 0", "value": 1}, "value": 0}, "gridWidth": {"condition": {"test": "round(datum.value * 10) % 2 == 0", "value": 1}, "value": 0.5}}},
     "x2": {"field": "hi"}, "y": {"field": "s", "type": "nominal", "scale": {"domain": ["male","female"], "paddingInner": 0, "paddingOuter": 0}, "axis": null}}},
   {"data": {"name": "q"}, "transform": [{"filter": "datum.t=='ASAT'"}],
    "layer": [
     {"mark": {"type": "bar", "stroke": "#1f1f1f", "strokeWidth": 0.9}, "encoding": {"x": {"field": "q10", "type": "quantitative"}, "x2": {"field": "q25"}, "y": {"field": "k", "type": "nominal", "scale": {"domain": ["male 64-74","male 75-84","male 85-99","female 64-74","female 75-84","female 85-99"], "paddingInner": 0, "paddingOuter": 0.1}, "axis": {"orient": "left", "title": null, "labels": false, "bandPosition": 0.5, "grid": true, "ticks": true, "tickSize": 4}}, "yOffset": {"field": "g", "type": "nominal", "scale": {"domain": ["NC","C"], "paddingInner": 0.42, "paddingOuter": 0.42}}, "fill": {"condition": {"test": "datum.g=='C'", "value": "#eff3ff"}, "value": "#fee6ce"}}},
     {"mark": {"type": "bar", "stroke": "#1f1f1f", "strokeWidth": 0.9}, "encoding": {"x": {"field": "q25", "type": "quantitative"}, "x2": {"field": "q50"}, "y": {"field": "k", "type": "nominal"}, "yOffset": {"field": "g", "type": "nominal"}, "fill": {"condition": {"test": "datum.g=='C'", "value": "#bdd7e7"}, "value": "#fdae6b"}}},
     {"mark": {"type": "bar", "stroke": "#1f1f1f", "strokeWidth": 0.9}, "encoding": {"x": {"field": "q50", "type": "quantitative"}, "x2": {"field": "q75"}, "y": {"field": "k", "type": "nominal"}, "yOffset": {"field": "g", "type": "nominal"}, "fill": {"condition": {"test": "datum.g=='C'", "value": "#6baed6"}, "value": "#f78f3f"}}},
     {"mark": {"type": "bar", "stroke": "#1f1f1f", "strokeWidth": 0.9}, "encoding": {"x": {"field": "q75", "type": "quantitative"}, "x2": {"field": "q90"}, "y": {"field": "k", "type": "nominal"}, "yOffset": {"field": "g", "type": "nominal"}, "fill": {"condition": {"test": "datum.g=='C'", "value": "#2171b5"}, "value": "#d94801"}}},
     {"mark": {"type": "bar", "fill": "#000", "stroke": "#000", "strokeWidth": 1, "xOffset": -1.2, "x2Offset": 1.2}, "encoding": {"x": {"field": "q50", "type": "quantitative"}, "x2": {"field": "q50"}, "y": {"field": "k", "type": "nominal"}, "yOffset": {"field": "g", "type": "nominal"}}}
    ]}
  ]},
 {"width": 138, "height": 156, "resolve": {"scale": {"y": "independent"}},
  "layer": [
   {"data": {"name": "ref"}, "transform": [{"filter": "datum.t=='Alb'"}], "mark": {"type": "rect", "fill": "#2ecc71", "opacity": 0.27, "clip": true},
    "encoding": {"x": {"field": "lo", "type": "quantitative", "scale": {"domain": [34.2, 50.8], "nice": false, "zero": false}, "axis": {"title": "Albumin, g/L", "grid": true, "tickCount": 30, "labelOverlap": false, "values": [35,37.5,40,42.5,45,47.5,50], "format": ".0f", "labelExpr": "datum.value % 5 == 0 ? datum.label : ''", "tickOpacity": {"condition": {"test": "datum.value % 5 == 0", "value": 1}, "value": 0}, "gridWidth": {"condition": {"test": "datum.value % 5 == 0", "value": 1}, "value": 0.5}}},
     "x2": {"field": "hi"}, "y": {"field": "s", "type": "nominal", "scale": {"domain": ["male","female"], "paddingInner": 0, "paddingOuter": 0}, "axis": null}}},
   {"data": {"name": "q"}, "transform": [{"filter": "datum.t=='Alb'"}],
    "layer": [
     {"mark": {"type": "bar", "stroke": "#1f1f1f", "strokeWidth": 0.9}, "encoding": {"x": {"field": "q10", "type": "quantitative"}, "x2": {"field": "q25"}, "y": {"field": "k", "type": "nominal", "scale": {"domain": ["male 64-74","male 75-84","male 85-99","female 64-74","female 75-84","female 85-99"], "paddingInner": 0, "paddingOuter": 0.1}, "axis": {"orient": "left", "title": null, "labels": false, "bandPosition": 0.5, "grid": true, "ticks": true, "tickSize": 4}}, "yOffset": {"field": "g", "type": "nominal", "scale": {"domain": ["NC","C"], "paddingInner": 0.42, "paddingOuter": 0.42}}, "fill": {"condition": {"test": "datum.g=='C'", "value": "#eff3ff"}, "value": "#fee6ce"}}},
     {"mark": {"type": "bar", "stroke": "#1f1f1f", "strokeWidth": 0.9}, "encoding": {"x": {"field": "q25", "type": "quantitative"}, "x2": {"field": "q50"}, "y": {"field": "k", "type": "nominal"}, "yOffset": {"field": "g", "type": "nominal"}, "fill": {"condition": {"test": "datum.g=='C'", "value": "#bdd7e7"}, "value": "#fdae6b"}}},
     {"mark": {"type": "bar", "stroke": "#1f1f1f", "strokeWidth": 0.9}, "encoding": {"x": {"field": "q50", "type": "quantitative"}, "x2": {"field": "q75"}, "y": {"field": "k", "type": "nominal"}, "yOffset": {"field": "g", "type": "nominal"}, "fill": {"condition": {"test": "datum.g=='C'", "value": "#6baed6"}, "value": "#f78f3f"}}},
     {"mark": {"type": "bar", "stroke": "#1f1f1f", "strokeWidth": 0.9}, "encoding": {"x": {"field": "q75", "type": "quantitative"}, "x2": {"field": "q90"}, "y": {"field": "k", "type": "nominal"}, "yOffset": {"field": "g", "type": "nominal"}, "fill": {"condition": {"test": "datum.g=='C'", "value": "#2171b5"}, "value": "#d94801"}}},
     {"mark": {"type": "bar", "fill": "#000", "stroke": "#000", "strokeWidth": 1, "xOffset": -1.2, "x2Offset": 1.2}, "encoding": {"x": {"field": "q50", "type": "quantitative"}, "x2": {"field": "q50"}, "y": {"field": "k", "type": "nominal"}, "yOffset": {"field": "g", "type": "nominal"}}}
    ]}
  ]},
 {"width": 138, "height": 156, "resolve": {"scale": {"y": "independent"}},
  "layer": [
   {"data": {"name": "ref"}, "transform": [{"filter": "datum.t=='GGT'"}], "mark": {"type": "rect", "fill": "#2ecc71", "opacity": 0.27, "clip": true},
    "encoding": {"x": {"field": "lo", "type": "quantitative", "scale": {"domain": [0.138, 1.13], "nice": false, "zero": false}, "axis": {"title": "GGT, ukat/L", "grid": true, "tickCount": 30, "labelOverlap": false, "values": [0.2,0.35,0.5,0.65,0.8,0.95,1.1], "format": ".1f", "labelExpr": "round(datum.value * 100) % 10 == 0 ? datum.label : ''", "tickOpacity": {"condition": {"test": "round(datum.value * 100) % 10 == 0", "value": 1}, "value": 0}, "gridWidth": {"condition": {"test": "round(datum.value * 100) % 10 == 0", "value": 1}, "value": 0.5}}},
     "x2": {"field": "hi"}, "y": {"field": "s", "type": "nominal", "scale": {"domain": ["male","female"], "paddingInner": 0, "paddingOuter": 0}, "axis": null}}},
   {"data": {"name": "q"}, "transform": [{"filter": "datum.t=='GGT'"}],
    "layer": [
     {"mark": {"type": "bar", "stroke": "#1f1f1f", "strokeWidth": 0.9}, "encoding": {"x": {"field": "q10", "type": "quantitative"}, "x2": {"field": "q25"}, "y": {"field": "k", "type": "nominal", "scale": {"domain": ["male 64-74","male 75-84","male 85-99","female 64-74","female 75-84","female 85-99"], "paddingInner": 0, "paddingOuter": 0.1}, "axis": {"orient": "left", "title": null, "labels": false, "bandPosition": 0.5, "grid": true, "ticks": true, "tickSize": 4}}, "yOffset": {"field": "g", "type": "nominal", "scale": {"domain": ["NC","C"], "paddingInner": 0.42, "paddingOuter": 0.42}}, "fill": {"condition": {"test": "datum.g=='C'", "value": "#eff3ff"}, "value": "#fee6ce"}}},
     {"mark": {"type": "bar", "stroke": "#1f1f1f", "strokeWidth": 0.9}, "encoding": {"x": {"field": "q25", "type": "quantitative"}, "x2": {"field": "q50"}, "y": {"field": "k", "type": "nominal"}, "yOffset": {"field": "g", "type": "nominal"}, "fill": {"condition": {"test": "datum.g=='C'", "value": "#bdd7e7"}, "value": "#fdae6b"}}},
     {"mark": {"type": "bar", "stroke": "#1f1f1f", "strokeWidth": 0.9}, "encoding": {"x": {"field": "q50", "type": "quantitative"}, "x2": {"field": "q75"}, "y": {"field": "k", "type": "nominal"}, "yOffset": {"field": "g", "type": "nominal"}, "fill": {"condition": {"test": "datum.g=='C'", "value": "#6baed6"}, "value": "#f78f3f"}}},
     {"mark": {"type": "bar", "stroke": "#1f1f1f", "strokeWidth": 0.9}, "encoding": {"x": {"field": "q75", "type": "quantitative"}, "x2": {"field": "q90"}, "y": {"field": "k", "type": "nominal"}, "yOffset": {"field": "g", "type": "nominal"}, "fill": {"condition": {"test": "datum.g=='C'", "value": "#2171b5"}, "value": "#d94801"}}},
     {"mark": {"type": "bar", "fill": "#000", "stroke": "#000", "strokeWidth": 1, "xOffset": -1.2, "x2Offset": 1.2}, "encoding": {"x": {"field": "q50", "type": "quantitative"}, "x2": {"field": "q50"}, "y": {"field": "k", "type": "nominal"}, "yOffset": {"field": "g", "type": "nominal"}}}
    ]}
  ]},
 {"width": 138, "height": 156, "resolve": {"scale": {"y": "independent"}},
  "layer": [
   {"data": {"name": "ref"}, "transform": [{"filter": "datum.t=='ALP'"}], "mark": {"type": "rect", "fill": "#2ecc71", "opacity": 0.27, "clip": true},
    "encoding": {"x": {"field": "lo", "type": "quantitative", "scale": {"domain": [0.555, 5.375], "nice": false, "zero": false}, "axis": {"title": "ALP, ukat/L", "grid": true, "tickCount": 30, "labelOverlap": false, "values": [1,1.5,2,2.5,3,3.5,4,4.5,5], "format": ".0f", "labelExpr": "datum.value % 1 == 0 ? datum.label : ''", "tickOpacity": {"condition": {"test": "datum.value % 1 == 0", "value": 1}, "value": 0}, "gridWidth": {"condition": {"test": "datum.value % 1 == 0", "value": 1}, "value": 0.5}}},
     "x2": {"field": "hi"}, "y": {"field": "s", "type": "nominal", "scale": {"domain": ["male","female"], "paddingInner": 0, "paddingOuter": 0}, "axis": null}}},
   {"data": {"name": "q"}, "transform": [{"filter": "datum.t=='ALP'"}],
    "layer": [
     {"mark": {"type": "bar", "stroke": "#1f1f1f", "strokeWidth": 0.9}, "encoding": {"x": {"field": "q10", "type": "quantitative"}, "x2": {"field": "q25"}, "y": {"field": "k", "type": "nominal", "scale": {"domain": ["male 64-74","male 75-84","male 85-99","female 64-74","female 75-84","female 85-99"], "paddingInner": 0, "paddingOuter": 0.1}, "axis": {"orient": "left", "title": null, "labelExpr": "split(datum.label, ' ')[1]", "bandPosition": 0.5, "grid": true, "ticks": true, "tickSize": 4, "labelPadding": 2, "labelFontSize": 15}}, "yOffset": {"field": "g", "type": "nominal", "scale": {"domain": ["NC","C"], "paddingInner": 0.42, "paddingOuter": 0.42}}, "fill": {"condition": {"test": "datum.g=='C'", "value": "#eff3ff"}, "value": "#fee6ce"}}},
     {"mark": {"type": "bar", "stroke": "#1f1f1f", "strokeWidth": 0.9}, "encoding": {"x": {"field": "q25", "type": "quantitative"}, "x2": {"field": "q50"}, "y": {"field": "k", "type": "nominal"}, "yOffset": {"field": "g", "type": "nominal"}, "fill": {"condition": {"test": "datum.g=='C'", "value": "#bdd7e7"}, "value": "#fdae6b"}}},
     {"mark": {"type": "bar", "stroke": "#1f1f1f", "strokeWidth": 0.9}, "encoding": {"x": {"field": "q50", "type": "quantitative"}, "x2": {"field": "q75"}, "y": {"field": "k", "type": "nominal"}, "yOffset": {"field": "g", "type": "nominal"}, "fill": {"condition": {"test": "datum.g=='C'", "value": "#6baed6"}, "value": "#f78f3f"}}},
     {"mark": {"type": "bar", "stroke": "#1f1f1f", "strokeWidth": 0.9}, "encoding": {"x": {"field": "q75", "type": "quantitative"}, "x2": {"field": "q90"}, "y": {"field": "k", "type": "nominal"}, "yOffset": {"field": "g", "type": "nominal"}, "fill": {"condition": {"test": "datum.g=='C'", "value": "#2171b5"}, "value": "#d94801"}}},
     {"mark": {"type": "bar", "fill": "#000", "stroke": "#000", "strokeWidth": 1, "xOffset": -1.2, "x2Offset": 1.2}, "encoding": {"x": {"field": "q50", "type": "quantitative"}, "x2": {"field": "q50"}, "y": {"field": "k", "type": "nominal"}, "yOffset": {"field": "g", "type": "nominal"}}}
    ]},
   {"data": {"name": "ref"}, "transform": [{"filter": "datum.t=='ALP'"}], "mark": {"type": "rect", "opacity": 0},
    "encoding": {"x": {"field": "lo", "type": "quantitative"}, "x2": {"field": "hi"}, "y": {"field": "s", "type": "nominal", "scale": {"domain": ["male","female"], "paddingInner": 0, "paddingOuter": 0}, "axis": {"orient": "left", "title": null, "offset": 46, "ticks": false, "tickSize": 0, "domain": false, "grid": false, "labelAlign": "left", "labelPadding": 55, "labelFontSize": 15}}}}
  ]},
 {"width": 138, "height": 156, "resolve": {"scale": {"y": "independent"}},
  "layer": [
   {"data": {"name": "ref"}, "transform": [{"filter": "datum.t=='LD'"}], "mark": {"type": "rect", "fill": "#2ecc71", "opacity": 0.27, "clip": true},
    "encoding": {"x": {"field": "lo", "type": "quantitative", "scale": {"domain": [1.65, 8.79], "nice": false, "zero": false}, "axis": {"title": "LD, ukat/L", "grid": true, "tickCount": 30, "labelOverlap": false, "values": [2,3,4,5,6,7,8], "format": ".0f", "labelExpr": "datum.value % 2 == 0 ? datum.label : ''", "tickOpacity": {"condition": {"test": "datum.value % 2 == 0", "value": 1}, "value": 0}, "gridWidth": {"condition": {"test": "datum.value % 2 == 0", "value": 1}, "value": 0.5}}},
     "x2": {"field": "hi"}, "y": {"field": "s", "type": "nominal", "scale": {"domain": ["male","female"], "paddingInner": 0, "paddingOuter": 0}, "axis": null}}},
   {"data": {"name": "q"}, "transform": [{"filter": "datum.t=='LD'"}],
    "layer": [
     {"mark": {"type": "bar", "stroke": "#1f1f1f", "strokeWidth": 0.9}, "encoding": {"x": {"field": "q10", "type": "quantitative"}, "x2": {"field": "q25"}, "y": {"field": "k", "type": "nominal", "scale": {"domain": ["male 64-74","male 75-84","male 85-99","female 64-74","female 75-84","female 85-99"], "paddingInner": 0, "paddingOuter": 0.1}, "axis": {"orient": "left", "title": null, "labels": false, "bandPosition": 0.5, "grid": true, "ticks": true, "tickSize": 4}}, "yOffset": {"field": "g", "type": "nominal", "scale": {"domain": ["NC","C"], "paddingInner": 0.42, "paddingOuter": 0.42}}, "fill": {"condition": {"test": "datum.g=='C'", "value": "#eff3ff"}, "value": "#fee6ce"}}},
     {"mark": {"type": "bar", "stroke": "#1f1f1f", "strokeWidth": 0.9}, "encoding": {"x": {"field": "q25", "type": "quantitative"}, "x2": {"field": "q50"}, "y": {"field": "k", "type": "nominal"}, "yOffset": {"field": "g", "type": "nominal"}, "fill": {"condition": {"test": "datum.g=='C'", "value": "#bdd7e7"}, "value": "#fdae6b"}}},
     {"mark": {"type": "bar", "stroke": "#1f1f1f", "strokeWidth": 0.9}, "encoding": {"x": {"field": "q50", "type": "quantitative"}, "x2": {"field": "q75"}, "y": {"field": "k", "type": "nominal"}, "yOffset": {"field": "g", "type": "nominal"}, "fill": {"condition": {"test": "datum.g=='C'", "value": "#6baed6"}, "value": "#f78f3f"}}},
     {"mark": {"type": "bar", "stroke": "#1f1f1f", "strokeWidth": 0.9}, "encoding": {"x": {"field": "q75", "type": "quantitative"}, "x2": {"field": "q90"}, "y": {"field": "k", "type": "nominal"}, "yOffset": {"field": "g", "type": "nominal"}, "fill": {"condition": {"test": "datum.g=='C'", "value": "#2171b5"}, "value": "#d94801"}}},
     {"mark": {"type": "bar", "fill": "#000", "stroke": "#000", "strokeWidth": 1, "xOffset": -1.2, "x2Offset": 1.2}, "encoding": {"x": {"field": "q50", "type": "quantitative"}, "x2": {"field": "q50"}, "y": {"field": "k", "type": "nominal"}, "yOffset": {"field": "g", "type": "nominal"}}}
    ]}
  ]},
 {"width": 138, "height": 156, "resolve": {"scale": {"y": "independent"}},
  "layer": [
   {"data": {"name": "ref"}, "transform": [{"filter": "datum.t=='Fe'"}], "mark": {"type": "rect", "fill": "#2ecc71", "opacity": 0.27, "clip": true},
    "encoding": {"x": {"field": "lo", "type": "quantitative", "scale": {"domain": [7.03, 31.6], "nice": false, "zero": false}, "axis": {"title": "Iron, umol/L", "grid": true, "tickCount": 30, "labelOverlap": false, "values": [7.5,10,12.5,15,17.5,20,22.5,25,27.5,30], "format": ".0f", "labelExpr": "datum.value % 5 == 0 ? datum.label : ''", "tickOpacity": {"condition": {"test": "datum.value % 5 == 0", "value": 1}, "value": 0}, "gridWidth": {"condition": {"test": "datum.value % 5 == 0", "value": 1}, "value": 0.5}}},
     "x2": {"field": "hi"}, "y": {"field": "s", "type": "nominal", "scale": {"domain": ["male","female"], "paddingInner": 0, "paddingOuter": 0}, "axis": null}}},
   {"data": {"name": "q"}, "transform": [{"filter": "datum.t=='Fe'"}],
    "layer": [
     {"mark": {"type": "bar", "stroke": "#1f1f1f", "strokeWidth": 0.9}, "encoding": {"x": {"field": "q10", "type": "quantitative"}, "x2": {"field": "q25"}, "y": {"field": "k", "type": "nominal", "scale": {"domain": ["male 64-74","male 75-84","male 85-99","female 64-74","female 75-84","female 85-99"], "paddingInner": 0, "paddingOuter": 0.1}, "axis": {"orient": "left", "title": null, "labels": false, "bandPosition": 0.5, "grid": true, "ticks": true, "tickSize": 4}}, "yOffset": {"field": "g", "type": "nominal", "scale": {"domain": ["NC","C"], "paddingInner": 0.42, "paddingOuter": 0.42}}, "fill": {"condition": {"test": "datum.g=='C'", "value": "#eff3ff"}, "value": "#fee6ce"}}},
     {"mark": {"type": "bar", "stroke": "#1f1f1f", "strokeWidth": 0.9}, "encoding": {"x": {"field": "q25", "type": "quantitative"}, "x2": {"field": "q50"}, "y": {"field": "k", "type": "nominal"}, "yOffset": {"field": "g", "type": "nominal"}, "fill": {"condition": {"test": "datum.g=='C'", "value": "#bdd7e7"}, "value": "#fdae6b"}}},
     {"mark": {"type": "bar", "stroke": "#1f1f1f", "strokeWidth": 0.9}, "encoding": {"x": {"field": "q50", "type": "quantitative"}, "x2": {"field": "q75"}, "y": {"field": "k", "type": "nominal"}, "yOffset": {"field": "g", "type": "nominal"}, "fill": {"condition": {"test": "datum.g=='C'", "value": "#6baed6"}, "value": "#f78f3f"}}},
     {"mark": {"type": "bar", "stroke": "#1f1f1f", "strokeWidth": 0.9}, "encoding": {"x": {"field": "q75", "type": "quantitative"}, "x2": {"field": "q90"}, "y": {"field": "k", "type": "nominal"}, "yOffset": {"field": "g", "type": "nominal"}, "fill": {"condition": {"test": "datum.g=='C'", "value": "#2171b5"}, "value": "#d94801"}}},
     {"mark": {"type": "bar", "fill": "#000", "stroke": "#000", "strokeWidth": 1, "xOffset": -1.2, "x2Offset": 1.2}, "encoding": {"x": {"field": "q50", "type": "quantitative"}, "x2": {"field": "q50"}, "y": {"field": "k", "type": "nominal"}, "yOffset": {"field": "g", "type": "nominal"}}}
    ]}
  ]},
 {"width": 138, "height": 156, "resolve": {"scale": {"y": "independent"}},
  "layer": [
   {"data": {"name": "ref"}, "transform": [{"filter": "datum.t=='TIBC'"}], "mark": {"type": "rect", "fill": "#2ecc71", "opacity": 0.27, "clip": true},
    "encoding": {"x": {"field": "lo", "type": "quantitative", "scale": {"domain": [41.3, 81.1], "nice": false, "zero": false}, "axis": {"title": "TIBC, umol/L", "grid": true, "tickCount": 30, "labelOverlap": false, "values": [45,50,55,60,65,70,75,80], "format": ".0f", "labelExpr": "datum.value % 10 == 0 ? datum.label : ''", "tickOpacity": {"condition": {"test": "datum.value % 10 == 0", "value": 1}, "value": 0}, "gridWidth": {"condition": {"test": "datum.value % 10 == 0", "value": 1}, "value": 0.5}}},
     "x2": {"field": "hi"}, "y": {"field": "s", "type": "nominal", "scale": {"domain": ["male","female"], "paddingInner": 0, "paddingOuter": 0}, "axis": null}}},
   {"data": {"name": "q"}, "transform": [{"filter": "datum.t=='TIBC'"}],
    "layer": [
     {"mark": {"type": "bar", "stroke": "#1f1f1f", "strokeWidth": 0.9}, "encoding": {"x": {"field": "q10", "type": "quantitative"}, "x2": {"field": "q25"}, "y": {"field": "k", "type": "nominal", "scale": {"domain": ["male 64-74","male 75-84","male 85-99","female 64-74","female 75-84","female 85-99"], "paddingInner": 0, "paddingOuter": 0.1}, "axis": {"orient": "left", "title": null, "labels": false, "bandPosition": 0.5, "grid": true, "ticks": true, "tickSize": 4}}, "yOffset": {"field": "g", "type": "nominal", "scale": {"domain": ["NC","C"], "paddingInner": 0.42, "paddingOuter": 0.42}}, "fill": {"condition": {"test": "datum.g=='C'", "value": "#eff3ff"}, "value": "#fee6ce"}}},
     {"mark": {"type": "bar", "stroke": "#1f1f1f", "strokeWidth": 0.9}, "encoding": {"x": {"field": "q25", "type": "quantitative"}, "x2": {"field": "q50"}, "y": {"field": "k", "type": "nominal"}, "yOffset": {"field": "g", "type": "nominal"}, "fill": {"condition": {"test": "datum.g=='C'", "value": "#bdd7e7"}, "value": "#fdae6b"}}},
     {"mark": {"type": "bar", "stroke": "#1f1f1f", "strokeWidth": 0.9}, "encoding": {"x": {"field": "q50", "type": "quantitative"}, "x2": {"field": "q75"}, "y": {"field": "k", "type": "nominal"}, "yOffset": {"field": "g", "type": "nominal"}, "fill": {"condition": {"test": "datum.g=='C'", "value": "#6baed6"}, "value": "#f78f3f"}}},
     {"mark": {"type": "bar", "stroke": "#1f1f1f", "strokeWidth": 0.9}, "encoding": {"x": {"field": "q75", "type": "quantitative"}, "x2": {"field": "q90"}, "y": {"field": "k", "type": "nominal"}, "yOffset": {"field": "g", "type": "nominal"}, "fill": {"condition": {"test": "datum.g=='C'", "value": "#2171b5"}, "value": "#d94801"}}},
     {"mark": {"type": "bar", "fill": "#000", "stroke": "#000", "strokeWidth": 1, "xOffset": -1.2, "x2Offset": 1.2}, "encoding": {"x": {"field": "q50", "type": "quantitative"}, "x2": {"field": "q50"}, "y": {"field": "k", "type": "nominal"}, "yOffset": {"field": "g", "type": "nominal"}}}
    ]}
  ]}
 ]
}
],
"spacing": 1
}
